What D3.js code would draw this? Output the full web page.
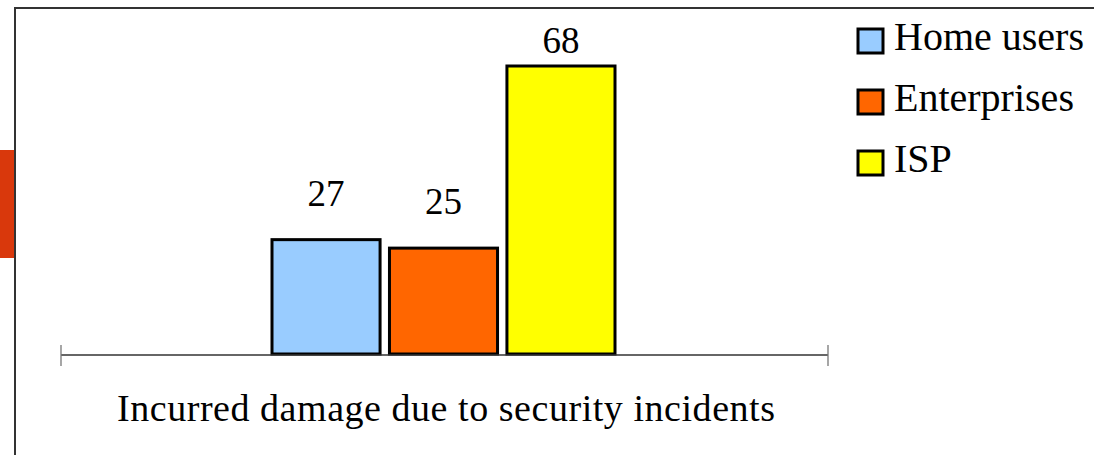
<!DOCTYPE html>
<html>
<head>
<meta charset="utf-8">
<script src="https://cdn.jsdelivr.net/npm/d3@7"></script>
<style>
  body { margin: 0; background: #fff; }
</style>
</head>
<body>
<div id="chart"></div>
<script>
var categories = ["Home users", "Enterprises", "ISP"];
var values = [27, 25, 68];
var colors = ["#99ccff", "#ff6600", "#ffff00"];
var axisTitle = "Incurred damage due to security incidents";

var width = 1094, height = 455;
var serif = "'Liberation Serif', 'Times New Roman', serif";

var svg = d3.select("#chart").append("svg")
  .attr("width", width)
  .attr("height", height);

// slide frame + accent block
svg.append("rect")
  .attr("x", 0).attr("y", 150)
  .attr("width", 14).attr("height", 108)
  .attr("fill", "#d9380c");

svg.append("path")
  .attr("d", "M15," + height + "V8H" + width)
  .attr("fill", "none")
  .attr("stroke", "#333")
  .attr("stroke-width", 2);

// scales
var axisX = d3.scaleLinear().domain([0, 1]).range([61, 828]);

var x = d3.scaleBand()
  .domain(categories)
  .range([272, 615])
  .paddingInner(0.08)
  .paddingOuter(0);

var y = d3.scaleLinear()
  .domain([0, d3.max(values)])
  .range([354, 66]);

// bars
svg.selectAll("rect.bar")
  .data(categories)
  .enter().append("rect")
  .attr("class", "bar")
  .attr("x", function(d) { return x(d); })
  .attr("y", function(d, i) { return y(values[i]); })
  .attr("width", x.bandwidth())
  .attr("height", function(d, i) { return y(0) - y(values[i]); })
  .attr("fill", function(d, i) { return colors[i]; })
  .attr("stroke", "#000")
  .attr("stroke-width", 3);

// value labels (tallest one squeezed under the frame)
svg.selectAll("text.value")
  .data(categories)
  .enter().append("text")
  .attr("class", "value")
  .attr("x", function(d) { return x(d) + x.bandwidth() / 2; })
  .attr("y", function(d, i) { return Math.max(y(values[i]) - 34, 53); })
  .attr("text-anchor", "middle")
  .style("font-family", serif)
  .style("font-size", "37px")
  .text(function(d, i) { return values[i]; });

// category axis line with end ticks
var axis = svg.append("g").attr("transform", "translate(0," + (y(0) + 1) + ")");
axis.append("line")
  .attr("x1", axisX(0)).attr("x2", axisX(1))
  .attr("stroke", "#333").attr("stroke-width", 1.3);
axis.selectAll("line.tick")
  .data([0, 1])
  .enter().append("line")
  .attr("class", "tick")
  .attr("x1", function(d) { return axisX(d); })
  .attr("x2", function(d) { return axisX(d); })
  .attr("y1", -10).attr("y2", 11)
  .attr("stroke", "#777").attr("stroke-width", 1.3);

svg.append("text")
  .attr("x", 117)
  .attr("y", 421)
  .attr("textLength", 658)
  .attr("lengthAdjust", "spacing")
  .style("font-family", serif)
  .style("font-size", "38px")
  .text(axisTitle);

// legend
var legend = svg.selectAll("g.legend")
  .data(categories)
  .enter().append("g")
  .attr("class", "legend")
  .attr("transform", function(d, i) { return "translate(858," + (29 + i * 61) + ")"; });

legend.append("rect")
  .attr("width", 25).attr("height", 24)
  .attr("fill", function(d, i) { return colors[i]; })
  .attr("stroke", "#000")
  .attr("stroke-width", 3);

legend.append("text")
  .attr("x", 36)
  .attr("y", 21)
  .style("font-family", serif)
  .style("font-size", "40px")
  .text(function(d) { return d; });
</script>
</body>
</html>
